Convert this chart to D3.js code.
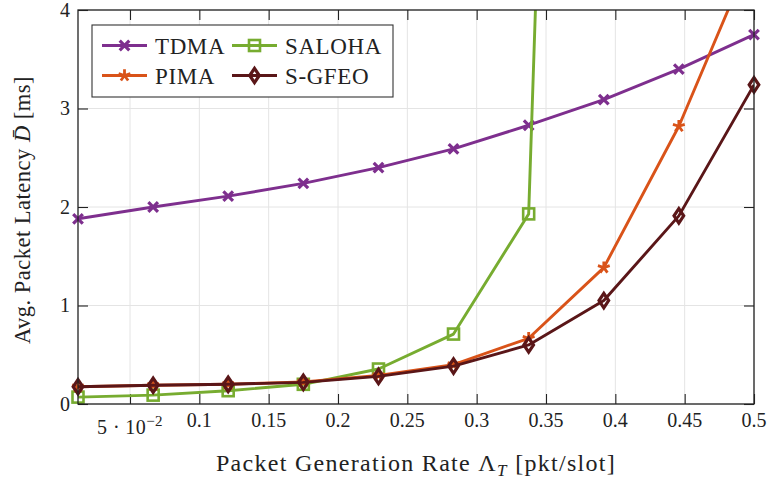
<!DOCTYPE html>
<html>
<head>
<meta charset="utf-8">
<script src="https://cdn.jsdelivr.net/npm/d3@7"></script>
<style>
  html, body { margin: 0; padding: 0; background: #fff; }
  svg { display: block; font-family: "Liberation Serif", "DejaVu Serif", serif; }
</style>
</head>
<body>
<svg id="chart" width="770" height="480"></svg>
<script>
// Packet generation rates (pkt/slot)
const rates = [0.0125, 0.0667, 0.1208, 0.175, 0.2292, 0.2833, 0.3375, 0.3917, 0.4458, 0.5];

// Average packet latency (ms) per scheme
const tdma   = [1.88, 2.00, 2.11, 2.24, 2.40, 2.59, 2.83, 3.09, 3.40, 3.75];
const saloha = [0.07, 0.09, 0.135, 0.20, 0.355, 0.71, 1.93, 25.0];
const pima   = [0.175, 0.19, 0.20, 0.225, 0.29, 0.40, 0.667, 1.385, 2.82, 4.62];
const sgfeo  = [0.175, 0.19, 0.20, 0.22, 0.28, 0.385, 0.60, 1.05, 1.91, 3.24];

const xTicks = [0.05, 0.1, 0.15, 0.2, 0.25, 0.3, 0.35, 0.4, 0.45, 0.5];
const xTickLabels = ["5·10^-2", "0.1", "0.15", "0.2", "0.25", "0.3", "0.35", "0.4", "0.45", "0.5"];
const yTicks = [0, 1, 2, 3, 4];

const seriesNames = ["TDMA", "SALOHA", "PIMA", "S-GFEO"];
const seriesColors = ["#7e2f8e", "#77ac30", "#d95319", "#5a1618"];
const seriesMarks = ["cross", "square", "star", "diamond"];
const seriesData = [tdma, saloha, pima, sgfeo];

const svg = d3.select("#chart");
const margin = { left: 78, right: 16, top: 10, bottom: 76 };
const W = 770, H = 480;
const x = d3.scaleLinear().domain([rates[0], 0.5]).range([margin.left, W - margin.right]);
const y = d3.scaleLinear().domain([0, 4]).range([H - margin.bottom, margin.top]);
const [x0, x1] = x.range();
const [y0, y1] = y.range();

// grid
const grid = svg.append("g").attr("stroke", "#e4e4e4").attr("stroke-width", 1);
xTicks.forEach(t => grid.append("line").attr("x1", x(t)).attr("x2", x(t)).attr("y1", y0).attr("y2", y1));
yTicks.forEach(t => grid.append("line").attr("y1", y(t)).attr("y2", y(t)).attr("x1", x0).attr("x2", x1));

// inward ticks on all four sides
const tickLen = 10;
const axBottom = svg.append("g").attr("transform", `translate(0,${y0})`)
  .call(d3.axisBottom(x).tickValues(xTicks).tickSizeInner(-tickLen).tickSizeOuter(0).tickFormat(""));
const axTop = svg.append("g").attr("transform", `translate(0,${y1})`)
  .call(d3.axisTop(x).tickValues(xTicks).tickSizeInner(-tickLen).tickSizeOuter(0).tickFormat(""));
const axLeft = svg.append("g").attr("transform", `translate(${x0},0)`)
  .call(d3.axisLeft(y).tickValues(yTicks).tickSizeInner(-tickLen).tickSizeOuter(0).tickFormat(""));
const axRight = svg.append("g").attr("transform", `translate(${x1},0)`)
  .call(d3.axisRight(y).tickValues(yTicks).tickSizeInner(-tickLen).tickSizeOuter(0).tickFormat(""));
[axBottom, axTop, axLeft, axRight].forEach(a => {
  a.select(".domain").remove();
  a.selectAll(".tick line").attr("stroke", "#222").attr("stroke-width", 1.1);
});

// tick labels
const fs = 20;
const xl = svg.append("g").attr("font-size", fs).attr("fill", "#222");
xTicks.forEach((t, i) => {
  const lab = xTickLabels[i];
  if (lab.includes("^")) {
    const [base, exp] = lab.split("^");
    const tx = xl.append("text").attr("x", x(t)).attr("y", y0 + 30).attr("text-anchor", "middle")
      .attr("letter-spacing", 0.4);
    tx.append("tspan").text(base.replace("·", " · "));
    tx.append("tspan").attr("dy", -8).attr("font-size", 15).text(exp.replace("-", "−"));
  } else {
    xl.append("text").attr("x", x(t)).attr("y", y0 + 23).attr("text-anchor", "middle").text(lab);
  }
});
const yl = svg.append("g").attr("font-size", fs).attr("fill", "#222");
yTicks.forEach(t => {
  yl.append("text").attr("x", x0 - 8).attr("y", y(t)).attr("dy", "0.33em")
    .attr("text-anchor", "end").text(d3.format("d")(t));
});

// axis titles
const xt = svg.append("text").attr("x", (x0 + x1) / 2).attr("y", 471)
  .attr("text-anchor", "middle").attr("font-size", 24).attr("letter-spacing", 1.3).attr("fill", "#222");
xt.append("tspan").text("Packet Generation Rate Λ");
xt.append("tspan").attr("dy", 5).attr("font-size", 17).attr("font-style", "italic").text("T");
xt.append("tspan").attr("dy", -5).text(" [pkt/slot]");

const yt = svg.append("text")
  .attr("transform", `translate(30,210) rotate(-90)`)
  .attr("text-anchor", "middle").attr("font-size", 22.5).attr("letter-spacing", 0.5).attr("fill", "#222");
yt.append("tspan").text("Avg. Packet Latency ");
yt.append("tspan").attr("font-style", "italic").text("D\u0304");
yt.append("tspan").text(" [ms]");

// series
svg.append("clipPath").attr("id", "plotclip").append("rect")
  .attr("x", x0 - 8).attr("y", y1).attr("width", x1 - x0 + 16).attr("height", y0 - y1 + 8);
const plot = svg.append("g").attr("clip-path", "url(#plotclip)");
svg.append("clipPath").attr("id", "lineclip").append("rect")
  .attr("x", x0).attr("y", y1).attr("width", x1 - x0).attr("height", y0 - y1);

function drawMark(g, kind, cx, cy, color) {
  const m = g.append("g").attr("transform", `translate(${cx},${cy})`)
    .attr("stroke", color).attr("fill", "none").attr("stroke-width", 2.4);
  if (kind === "cross") {
    const r = 4.8;
    m.append("path").attr("d", `M${-r},${-r}L${r},${r}M${-r},${r}L${r},${-r}`).attr("stroke-width", 3.2);
  } else if (kind === "square") {
    m.append("rect").attr("x", -5.5).attr("y", -5.5).attr("width", 11).attr("height", 11)
      .attr("stroke-width", 2.6);
  } else if (kind === "star") {
    const r = 6.2;
    let d = "";
    for (let k = 0; k < 5; k++) {
      const a = -Math.PI / 2 + k * 2 * Math.PI / 5;
      d += `M0,0L${r * Math.cos(a)},${r * Math.sin(a)}`;
    }
    m.append("path").attr("d", d).attr("stroke-width", 2.8);
  } else if (kind === "diamond") {
    m.append("path").attr("d", "M0,-7.2L4.8,0L0,7.2L-4.8,0Z").attr("stroke-width", 3.2);
  }
}

const line = d3.line().x(d => x(d[0])).y(d => y(d[1]));
seriesData.forEach((vals, i) => {
  const pts = vals.map((v, j) => [rates[j], v]);
  plot.append("path").attr("d", line(pts)).attr("fill", "none")
    .attr("stroke", seriesColors[i]).attr("stroke-width", 2.9)
    .attr("stroke-linejoin", "round").attr("clip-path", "url(#lineclip)");
  const mg = plot.append("g");
  pts.forEach(p => {
    if (p[1] <= 4.05) drawMark(mg, seriesMarks[i], x(p[0]), y(p[1]), seriesColors[i]);
  });
});

// frame
svg.append("rect").attr("x", x0).attr("y", y1).attr("width", x1 - x0).attr("height", y0 - y1)
  .attr("fill", "none").attr("stroke", "#222").attr("stroke-width", 1.3);

// legend
const lg = svg.append("g");
lg.append("rect").attr("x", 92).attr("y", 25).attr("width", 301).attr("height", 72)
  .attr("fill", "#fff").attr("stroke", "#333").attr("stroke-width", 1.1);
const legPos = [[102, 45.5], [232, 45.5], [102, 75.5], [232, 75.5]];
seriesNames.forEach((name, i) => {
  const [lx, ly] = legPos[i];
  lg.append("line").attr("x1", lx).attr("x2", lx + 45).attr("y1", ly).attr("y2", ly)
    .attr("stroke", seriesColors[i]).attr("stroke-width", 2.9);
  drawMark(lg, seriesMarks[i], lx + 22.5, ly, seriesColors[i]);
  lg.append("text").attr("x", lx + 53).attr("y", ly).attr("dy", "0.35em")
    .attr("font-size", 23).attr("letter-spacing", 0.6).attr("fill", "#222").text(name);
});
</script>
</body>
</html>
